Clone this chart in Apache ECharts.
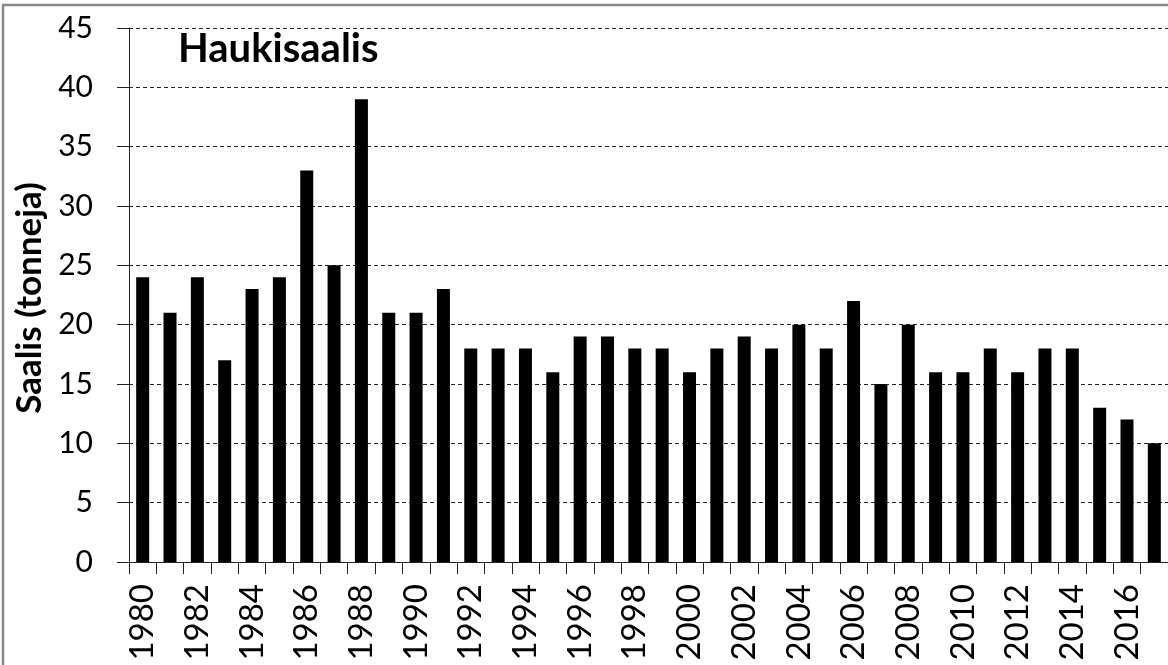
<!DOCTYPE html>
<html>
<head>
<meta charset="utf-8">
<script src="https://cdn.jsdelivr.net/npm/echarts@6/dist/echarts.min.js"></script>
<style>
html,body{margin:0;padding:0;background:#fff;}
#chart{width:1168px;height:665px;}
</style>
</head>
<body>
<div id="chart"></div>
<script>
var years = ['1980','1981','1982','1983','1984','1985','1986','1987','1988','1989',
  '1990','1991','1992','1993','1994','1995','1996','1997','1998','1999',
  '2000','2001','2002','2003','2004','2005','2006','2007','2008','2009',
  '2010','2011','2012','2013','2014','2015','2016','2017'];
var catch_t = [24,21,24,17,23,24,33,25,39,21,
  21,23,18,18,18,16,19,19,18,18,
  16,18,19,18,20,18,22,15,20,16,
  16,18,16,18,18,13,12,10];
var yTicks = [0,5,10,15,20,25,30,35,40,45];
var titleText = 'Haukisaalis';
var yName = 'Saalis (tonneja)';

var chart = echarts.init(document.getElementById('chart'));
var FONT = 'Lato, "Liberation Sans", Arial, sans-serif';
chart.setOption({
  animation: false,
  backgroundColor: '#fff',
  graphic: [
    {type:'rect', shape:{x:3, y:5, width:2000, height:2000},
     style:{fill:'none', stroke:'#888', lineWidth:2.5}, silent:true, z:0},
    {type:'text', left:178, top:29,
     style:{text:titleText, font:'bold 40px ' + FONT, fill:'#000'}, z:10}
  ],
  grid: {left:129, top:28, bottom:103, right:-9, containLabel:false},
  xAxis: {
    type:'category', data: years,
    axisLine:{show:true, lineStyle:{color:'#222', width:1}},
    axisTick:{show:true, interval:0, length:12, inside:false, lineStyle:{color:'#222'}},
    axisLabel:{interval:1, rotate:90, margin:22, fontFamily:FONT, fontSize:33, color:'#000'},
    splitLine:{show:false}
  },
  yAxis: {
    type:'value', min:0, max:45, interval:5,
    name: yName, nameLocation:'middle', nameGap:75, nameRotate:90,
    nameTextStyle:{fontFamily:FONT, fontSize:35, fontWeight:'bold', color:'#000', padding:[0,0,0,-6]},
    axisLine:{show:true, lineStyle:{color:'#222', width:1}},
    axisTick:{show:true, length:12, inside:false, lineStyle:{color:'#222'}},
    axisLabel:{margin:36, fontFamily:FONT, fontSize:30, color:'#000',
      formatter:function(v){return yTicks.indexOf(v) >= 0 ? String(v) : '';}},
    splitLine:{show:true, lineStyle:{color:'#222', type:[4,3], width:1}}
  },
  series: [{
    type:'bar', data: catch_t, barWidth:13,
    itemStyle:{color:'#000'}
  }]
});
</script>
</body>
</html>
